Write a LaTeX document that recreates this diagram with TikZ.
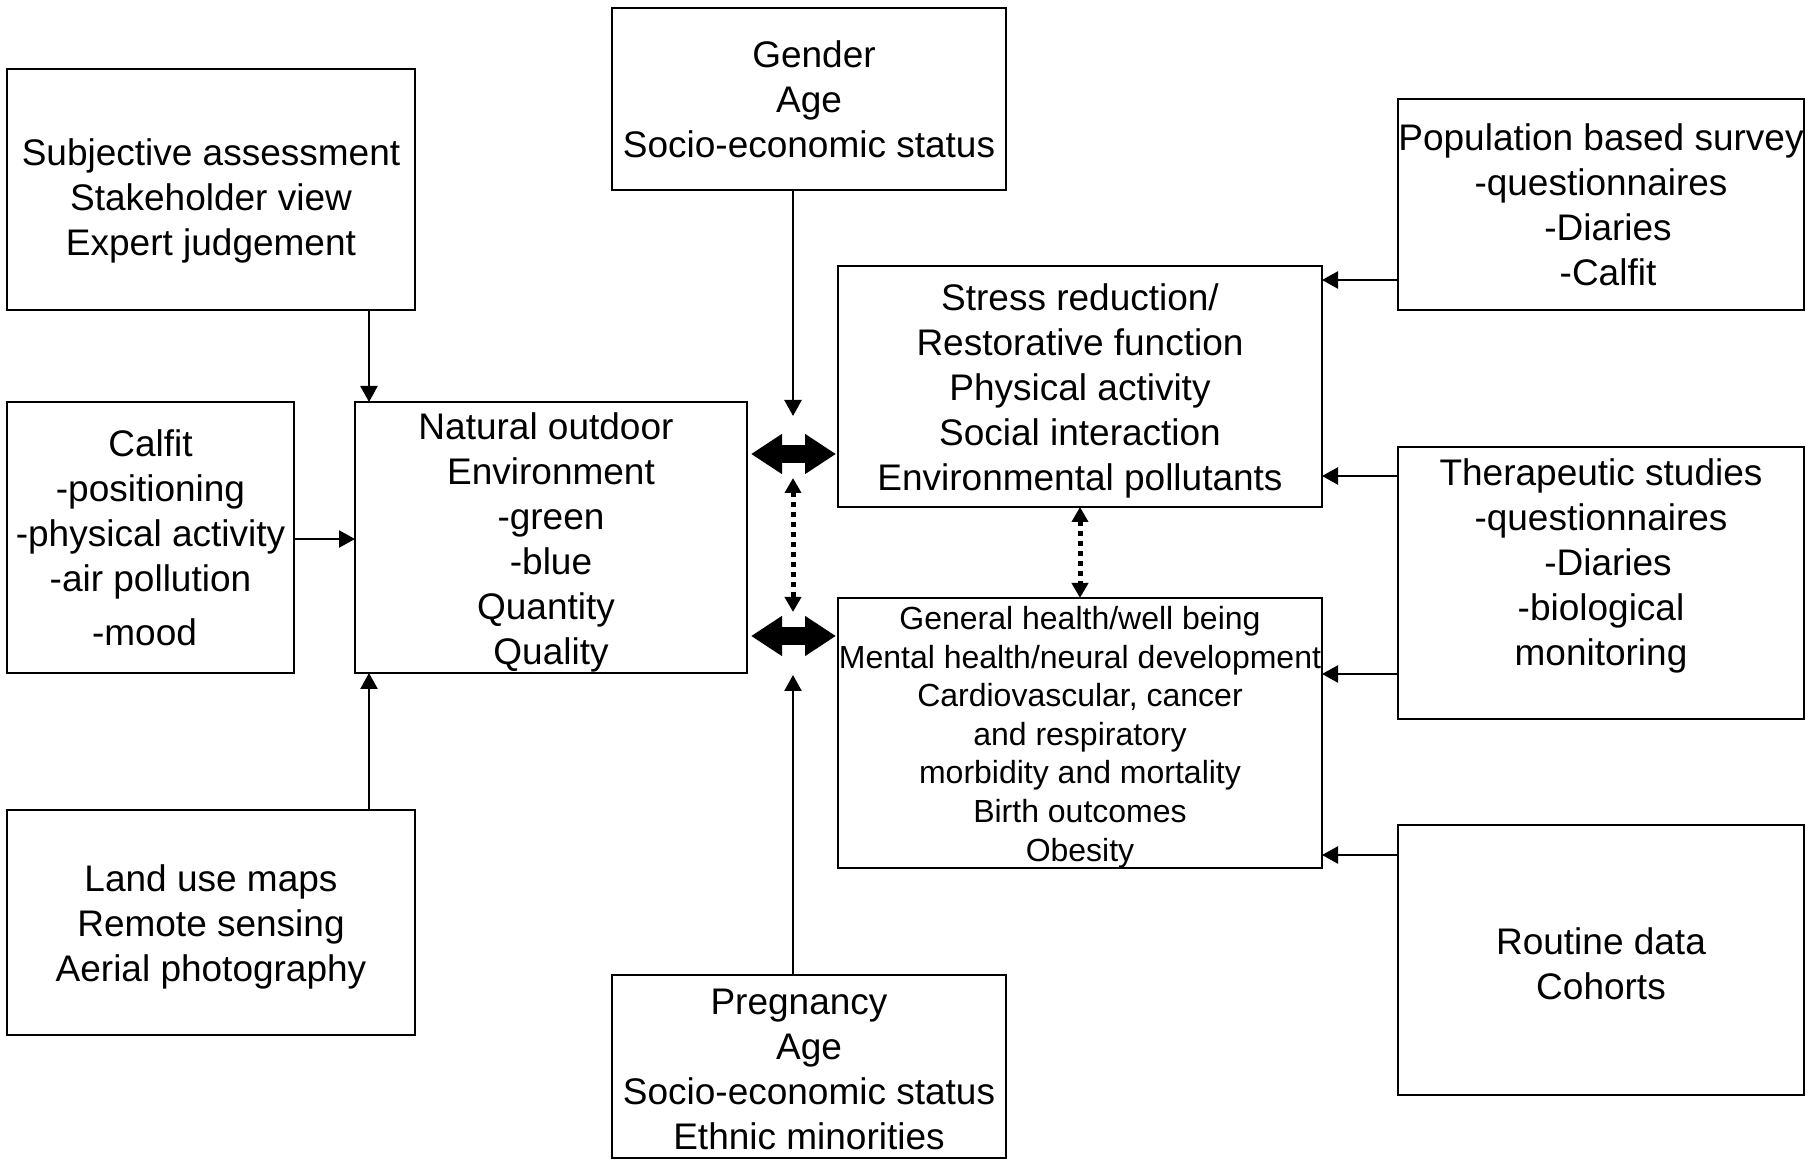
\documentclass[tikz,border=0pt]{standalone}
\usepackage{fontspec}
\setmainfont{Liberation Sans}
\usetikzlibrary{arrows.meta}
\newcommand{\uprule}[1]{\rule{0pt}{#1}}
\newcommand{\dnrule}[1]{\rule[-#1]{0pt}{0pt}}
\begin{document}
\begin{tikzpicture}[x=0.5pt,y=-0.5pt,
  box/.style={draw, line width=1pt, rectangle, inner sep=0pt, outer sep=0pt, align=center,
    font=\fontsize{18.5pt}{22.5pt}\selectfont},
  smallbox/.style={box, font=\fontsize{16pt}{19.3pt}\selectfont},
  arr/.style={-{Triangle[length=8pt,width=8.5pt]}, line width=1.2pt},
  bigarr/.style={{Triangle[length=15.5pt,width=19pt]}-{Triangle[length=15.5pt,width=19pt]}, line width=9pt},
  dotarr/.style={{Triangle[length=7.5pt,width=8pt]}-{Triangle[length=7.5pt,width=8pt]}, line width=2.5pt, dash pattern=on 2.5pt off 2.5pt}]
\useasboundingbox (0,0) rectangle (1806,1159);

\node[box, minimum width=204pt, minimum height=120.5pt] (subj) at (211,189.5)
  {\uprule{25.2pt}Subjective assessment\\Stakeholder view\\Expert judgement};
\node[box, minimum width=197pt, minimum height=91pt] (gender) at (809,99)
  {\rule{5pt}{0pt}Gender\\Age\\Socio-economic status};
\node[box, minimum width=203pt, minimum height=105.5pt] (pop) at (1601,204.5)
  {Population based survey\\-questionnaires\\\rule{7pt}{0pt}-Diaries\\\rule{7pt}{0pt}-Calfit};
\node[box, minimum width=242pt, minimum height=120.5pt] (stress) at (1080,386.5)
  {\uprule{17.7pt}Stress reduction/\\Restorative function\\Physical activity\\Social interaction\\Environmental pollutants};
\node[box, minimum width=143.5pt, minimum height=135.5pt] (calfit) at (150.5,537.5)
  {Calfit\\-positioning\\-physical activity\\-air pollution\\[4.5pt]-mood\rule{6pt}{0pt}};
\node[box, minimum width=196pt, minimum height=135.5pt] (nat) at (551,537.5)
  {\uprule{18.5pt}Natural outdoor\rule{5pt}{0pt}\\Environment\\-green\\-blue\\Quantity\rule{5pt}{0pt}\\Quality};
\node[box, minimum width=203pt, minimum height=136pt] (ther) at (1601,583)
  {Therapeutic studies\\-questionnaires\\\rule{7pt}{0pt}-Diaries\\-biological\\monitoring\dnrule{20.7pt}};
\node[smallbox, minimum width=242pt, minimum height=135pt] (gen) at (1080,733)
  {\uprule{15.7pt}General health/well being\\Mental health/neural development\\Cardiovascular, cancer\\and respiratory\\morbidity and mortality\\Birth outcomes\\Obesity};
\node[box, minimum width=204pt, minimum height=112.5pt] (land) at (211,922.5)
  {\uprule{17.9pt}Land use maps\\Remote sensing\\Aerial photography};
\node[box, minimum width=197pt, minimum height=91.5pt] (preg) at (809,1066.5)
  {\uprule{15.3pt}Pregnancy\rule{10pt}{0pt}\\Age\\Socio-economic status\\Ethnic minorities};
\node[box, minimum width=203pt, minimum height=135pt] (rout) at (1601,960)
  {\uprule{16.9pt}Routine data\\Cohorts};

% left connectors
\draw[arr] (369,0 |- subj.south) -- (369,0 |- nat.north);
\draw[arr] (calfit.east |- 0,539) -- (nat.west |- 0,539);
\draw[arr] (369,0 |- land.north) -- (369,0 |- nat.south);

% middle connectors
\coordinate (gtip) at (793,416);
\coordinate (ptip) at (793,675);
\draw[arr] (793,0 |- gender.south) -- (gtip);
\draw[arr] (793,0 |- preg.north) -- (ptip);
\draw[bigarr, shorten <=2pt, shorten >=1pt] (nat.east |- 0,454) -- (stress.west |- 0,454);
\draw[bigarr, shorten <=2pt, shorten >=1pt] (nat.east |- 0,636) -- (gen.west |- 0,636);
\coordinate (da) at (793,478);
\coordinate (db) at (793,612);
\draw[dotarr] (da) -- (db);
\draw[dotarr] (stress.south) -- (gen.north);

% right connectors
\draw[arr] (pop.west |- 0,280) -- (stress.east |- 0,280);
\draw[arr] (ther.west |- 0,476) -- (stress.east |- 0,476);
\draw[arr] (ther.west |- 0,674) -- (gen.east |- 0,674);
\draw[arr] (rout.west |- 0,855) -- (gen.east |- 0,855);
\end{tikzpicture}
\end{document}
